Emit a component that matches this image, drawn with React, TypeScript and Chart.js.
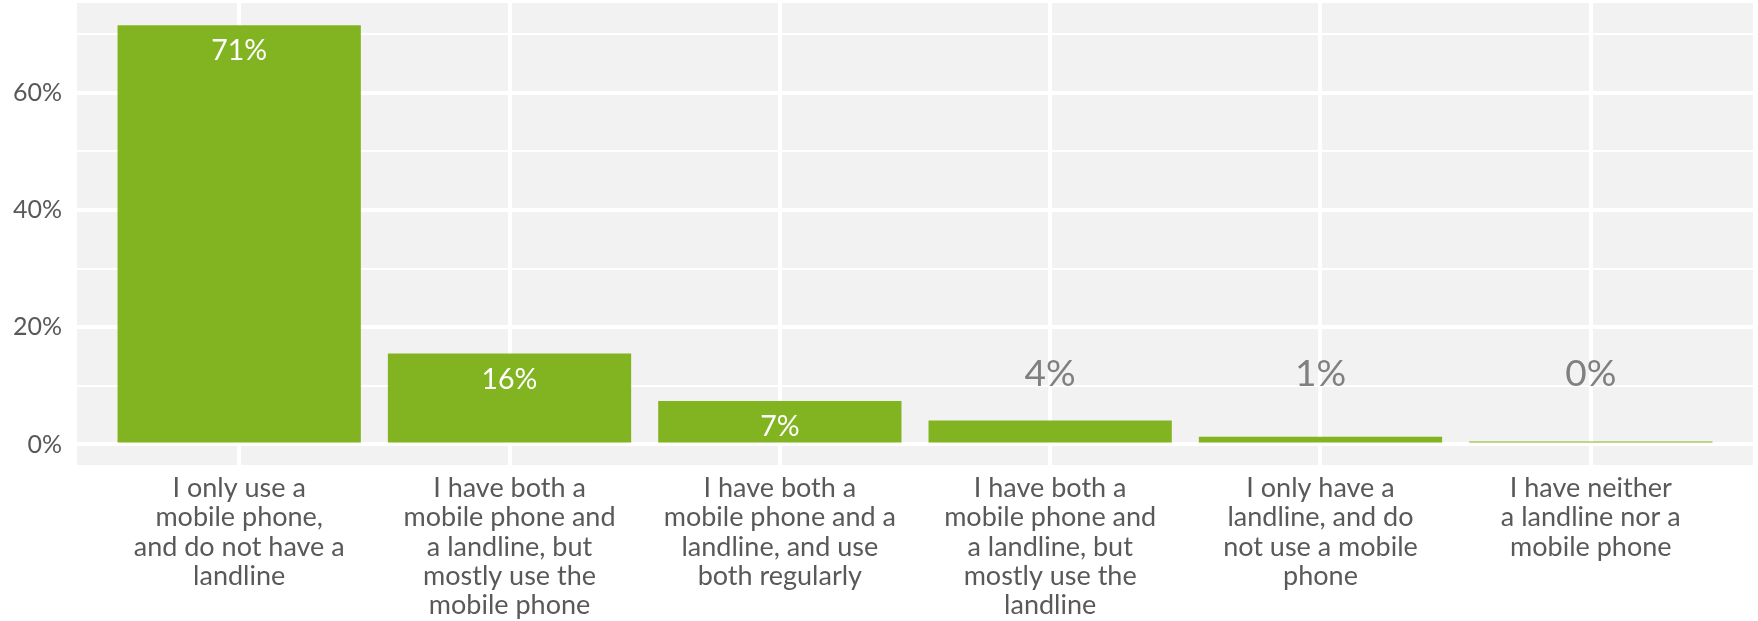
import React, { useEffect, useRef } from 'react';
import { Chart, registerables } from 'chart.js';

Chart.register(...registerables);

const categories: string[][] = [
  ['I only use a', 'mobile phone,', 'and do not have a', 'landline'],
  ['I have both a', 'mobile phone and', 'a landline, but', 'mostly use the', 'mobile phone'],
  ['I have both a', 'mobile phone and a', 'landline, and use', 'both regularly'],
  ['I have both a', 'mobile phone and', 'a landline, but', 'mostly use the', 'landline'],
  ['I only have a', 'landline, and do', 'not use a mobile', 'phone'],
  ['I have neither', 'a landline nor a', 'mobile phone'],
];
const shares: number[] = [71.5, 15.5, 7.4, 4.1, 1.3, 0.5];
const shareLabels: string[] = ['71%', '16%', '7%', '4%', '1%', '0%'];
const yTickValues: number[] = [0, 10, 20, 30, 40, 50, 60, 70];
const yLabelledTicks: number[] = [0, 20, 40, 60];

const GREEN = '#82b421';
const PANEL = '#f2f2f2';
const TEXT = '#595959';
const OUTSIDE_LABEL_LEVEL = 12.0;

const panelBg = {
  id: 'panelBg',
  beforeDraw(chart: any) {
    const { ctx, chartArea: a } = chart;
    ctx.save();
    ctx.fillStyle = PANEL;
    ctx.fillRect(a.left, a.top, a.right - a.left, a.bottom - a.top);
    ctx.restore();
  },
};

const valueLabels = {
  id: 'valueLabels',
  afterDatasetsDraw(chart: any) {
    const { ctx } = chart;
    const meta = chart.getDatasetMeta(0);
    const yScale = chart.scales.y;
    ctx.save();
    ctx.textAlign = 'center';
    ctx.textBaseline = 'middle';
    meta.data.forEach((bar: any, i: number) => {
      const v = shares[i];
      if (v > 5) {
        ctx.fillStyle = '#ffffff';
        ctx.font = '28.5px Lato';
        ctx.fillText(shareLabels[i], bar.x, bar.y + 26);
      } else {
        ctx.fillStyle = '#808080';
        ctx.font = '37px Lato';
        ctx.fillText(shareLabels[i], bar.x, yScale.getPixelForValue(OUTSIDE_LABEL_LEVEL));
      }
    });
    ctx.restore();
  },
};

const zeroPad = (s: any) => {
  s.paddingTop = 0;
  s.paddingBottom = 0;
  s.paddingLeft = 0;
  s.paddingRight = 0;
};

export default function App() {
  const canvasRef = useRef<HTMLCanvasElement | null>(null);

  useEffect(() => {
    document.body.style.margin = '0';
    const canvas = canvasRef.current;
    if (!canvas) return;
    const chart = new Chart(canvas, {
      type: 'bar',
      data: {
        datasets: [
          {
            data: shares.map((v, i) => ({ x: i, y: v })),
            backgroundColor: GREEN,
            borderWidth: 0,
            barPercentage: 0.9,
            categoryPercentage: 1,
          },
        ],
      },
      options: {
        responsive: false,
        animation: false,
        layout: { padding: { top: 3, right: 5, left: 0, bottom: 0 } },
        plugins: {
          legend: { display: false },
          tooltip: { enabled: false },
        },
        scales: {
          x: {
            type: 'linear',
            offset: false,
            min: -0.6,
            max: 5.6,
            afterBuildTicks: (ax: any) => {
              ax.ticks = categories.map((_, i) => ({ value: i }));
            },
            afterFit: (s: any) => {
              s.height = 156;
              zeroPad(s);
            },
            ticks: {
              callback: (_v: any, index: number) => categories[index],
              font: { family: 'Lato', size: 27, lineHeight: 1.08 },
              color: TEXT,
              padding: 9,
              autoSkip: false,
              maxRotation: 0,
              minRotation: 0,
            },
            grid: { color: '#ffffff', lineWidth: 4, drawTicks: false, offset: false },
            border: { display: false },
          },
          y: {
            min: -3.5,
            max: 75.3,
            afterBuildTicks: (ax: any) => {
              ax.ticks = yTickValues.map((v) => ({ value: v }));
            },
            afterFit: (s: any) => {
              s.width = 77;
              zeroPad(s);
            },
            ticks: {
              callback: (v: any) => (yLabelledTicks.includes(Number(v)) ? v + '%' : ''),
              font: { family: 'Lato', size: 25 },
              color: TEXT,
              padding: 15,
            },
            grid: {
              color: '#ffffff',
              lineWidth: (c: any) => (c.tick && yLabelledTicks.includes(c.tick.value) ? 4 : 2),
              drawTicks: false,
            },
            border: { display: false },
          },
        },
      },
      plugins: [panelBg, valueLabels],
    });
    return () => chart.destroy();
  }, []);

  return (
    <div style={{ position: 'absolute', left: 0, top: 0, width: 1758, height: 621, background: '#ffffff' }}>
      <canvas ref={canvasRef} width={1758} height={621} />
    </div>
  );
}
